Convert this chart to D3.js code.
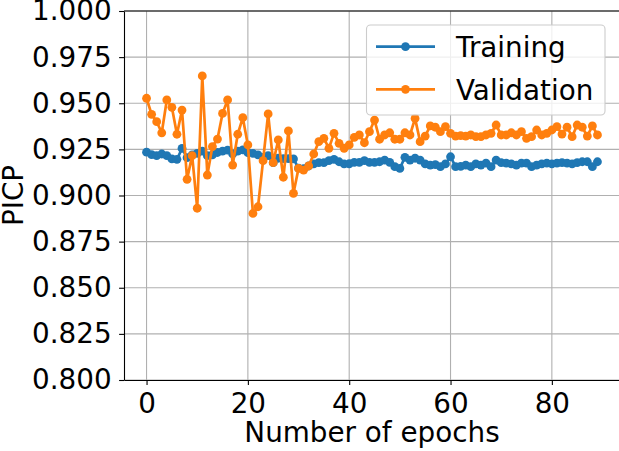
<!DOCTYPE html>
<html>
<head>
<meta charset="utf-8">
<script src="https://cdn.jsdelivr.net/npm/d3@7"></script>
<style>
  body { margin: 0; background: #fff; }
  text { font-family: "DejaVu Sans", sans-serif; fill: #000; }
</style>
</head>
<body>
<div id="chart"></div>
<script>
// PICP per epoch
var trainingPICP = [
  0.9235, 0.9222, 0.9216, 0.9225, 0.9216, 0.9198, 0.9196, 0.9255, 0.9205, 0.9220,
  0.9228, 0.9240, 0.9216, 0.9220, 0.9233, 0.9240, 0.9246, 0.9225, 0.9240, 0.9247,
  0.9232, 0.9228, 0.9220, 0.9207, 0.9216, 0.9178, 0.9202, 0.9200, 0.9200, 0.9198,
  0.9148, 0.9145, 0.9160, 0.9171, 0.9178, 0.9178, 0.9189, 0.9196, 0.9183, 0.9171,
  0.9172, 0.9180, 0.9180, 0.9189, 0.9180, 0.9180, 0.9183, 0.9192, 0.9180, 0.9156,
  0.9147, 0.9207, 0.9192, 0.9202, 0.9192, 0.9171, 0.9165, 0.9167, 0.9156, 0.9171,
  0.9210, 0.9156, 0.9158, 0.9165, 0.9156, 0.9171, 0.9165, 0.9175, 0.9156, 0.9192,
  0.9178, 0.9175, 0.9171, 0.9165, 0.9175, 0.9175, 0.9156, 0.9165, 0.9171, 0.9175,
  0.9171, 0.9175, 0.9178, 0.9175, 0.9171, 0.9178, 0.9183, 0.9183, 0.9156, 0.9183
];
var validationPICP = [
  0.9527, 0.9440, 0.9400, 0.9340, 0.9518, 0.9478, 0.9332, 0.9463, 0.9088, 0.9216,
  0.8931, 0.9648, 0.9111, 0.9265, 0.9306, 0.9445, 0.9518, 0.9165, 0.9332, 0.9422,
  0.9274, 0.8903, 0.8939, 0.9189, 0.9442, 0.9178, 0.9301, 0.9099, 0.9350, 0.9012,
  0.9147, 0.9138, 0.9160, 0.9225, 0.9292, 0.9310, 0.9256, 0.9337, 0.9283, 0.9256,
  0.9274, 0.9315, 0.9328, 0.9286, 0.9346, 0.9409, 0.9305, 0.9328, 0.9340, 0.9305,
  0.9305, 0.9340, 0.9328, 0.9418, 0.9292, 0.9322, 0.9377, 0.9370, 0.9346, 0.9373,
  0.9337, 0.9322, 0.9325, 0.9322, 0.9328, 0.9319, 0.9319, 0.9328, 0.9337, 0.9382,
  0.9328, 0.9328, 0.9340, 0.9328, 0.9346, 0.9310, 0.9319, 0.9355, 0.9328, 0.9337,
  0.9355, 0.9373, 0.9333, 0.9370, 0.9319, 0.9382, 0.9370, 0.9322, 0.9377, 0.9328
];
var xTicks = [0, 20, 40, 60, 80];
var yTicks = [0.800, 0.825, 0.850, 0.875, 0.900, 0.925, 0.950, 0.975, 1.000];
var seriesNames = ["Training", "Validation"];
var seriesColors = ["#1f77b4", "#ff7f0e"];

var svgWidth = 619, svgHeight = 451;
var plotLeft = 124, plotRight = 620, plotTop = 11, plotBottom = 380;
var fontSize = 27.8;

var svg = d3.select("#chart").append("svg")
  .attr("width", svgWidth)
  .attr("height", svgHeight);

var n = trainingPICP.length - 1;
var xScale = d3.scaleLinear()
  .domain([-0.05 * n, n * 1.05])
  .range([plotLeft, plotRight]);
var yScale = d3.scaleLinear()
  .domain([0.8, 1.0])
  .range([plotBottom, plotTop]);

// grid
svg.append("g").selectAll("line")
  .data(xTicks).enter().append("line")
  .attr("x1", d => xScale(d)).attr("x2", d => xScale(d))
  .attr("y1", plotTop).attr("y2", plotBottom)
  .attr("stroke", "#b0b0b0").attr("stroke-width", 1.1);
svg.append("g").selectAll("line")
  .data(yTicks).enter().append("line")
  .attr("x1", plotLeft).attr("x2", plotRight)
  .attr("y1", d => yScale(d)).attr("y2", d => yScale(d))
  .attr("stroke", "#b0b0b0").attr("stroke-width", 1.1);

// series
var allSeries = [trainingPICP, validationPICP];
var line = d3.line()
  .x((d, i) => xScale(i))
  .y(d => yScale(d));

allSeries.forEach(function (vals, k) {
  var g = svg.append("g");
  g.append("path")
    .datum(vals)
    .attr("d", line)
    .attr("fill", "none")
    .attr("stroke", seriesColors[k])
    .attr("stroke-width", 2.7)
    .attr("stroke-linejoin", "round");
  g.selectAll("circle")
    .data(vals)
    .enter()
    .append("circle")
    .attr("cx", (d, i) => xScale(i))
    .attr("cy", d => yScale(d))
    .attr("r", 4.4)
    .attr("fill", seriesColors[k]);
});

// axes
var bottomAxis = d3.axisBottom(xScale)
  .tickValues(xTicks)
  .tickSize(4.9)
  .tickSizeOuter(0)
  .tickPadding(8.4)
  .tickFormat(d3.format("d"));
var leftAxis = d3.axisLeft(yScale)
  .tickValues(yTicks)
  .tickSize(4.9)
  .tickSizeOuter(0)
  .tickPadding(7.5)
  .tickFormat(d3.format(".3f"));

var gx = svg.append("g")
  .attr("transform", `translate(0, ${plotBottom})`)
  .call(bottomAxis);
var gy = svg.append("g")
  .attr("transform", `translate(${plotLeft}, 0)`)
  .call(leftAxis);

[gx, gy].forEach(function (g) {
  g.selectAll("text")
    .attr("font-size", fontSize)
    .attr("font-family", "DejaVu Sans")
    .attr("fill", "#000");
  g.selectAll("line").attr("stroke", "#000").attr("stroke-width", 1.1);
  g.select(".domain").attr("stroke", "#000").attr("stroke-width", 1.1);
});

// top and right spines
svg.append("line")
  .attr("x1", plotLeft).attr("x2", plotRight)
  .attr("y1", plotTop).attr("y2", plotTop)
  .attr("stroke", "#000").attr("stroke-width", 1.1);
svg.append("line")
  .attr("x1", plotRight).attr("x2", plotRight)
  .attr("y1", plotTop).attr("y2", plotBottom)
  .attr("stroke", "#000").attr("stroke-width", 1.1);

// axis labels
svg.append("text")
  .attr("x", (plotLeft + plotRight) / 2)
  .attr("y", 441.5)
  .attr("text-anchor", "middle")
  .attr("font-size", fontSize)
  .text("Number of epochs");

svg.append("text")
  .attr("transform", `translate(23, ${(plotTop + plotBottom) / 2}) rotate(-90)`)
  .attr("text-anchor", "middle")
  .attr("font-size", fontSize)
  .text("PICP");

// legend
var legend = svg.append("g");
legend.append("rect")
  .attr("x", 366.5).attr("y", 25)
  .attr("width", 238.5).attr("height", 90)
  .attr("rx", 4).attr("ry", 4)
  .attr("fill", "#fff").attr("fill-opacity", 0.8)
  .attr("stroke", "#cccccc").attr("stroke-width", 1.1);

var rows = legend.selectAll("g.row")
  .data(seriesNames)
  .enter()
  .append("g")
  .attr("class", "row")
  .attr("transform", (d, i) => `translate(0, ${46.7 + i * 42.6})`);
rows.append("line")
  .attr("x1", 376).attr("x2", 435)
  .attr("y1", 0).attr("y2", 0)
  .attr("stroke", (d, i) => seriesColors[i])
  .attr("stroke-width", 2.7);
rows.append("circle")
  .attr("cx", 405.5).attr("cy", 0).attr("r", 4.4)
  .attr("fill", (d, i) => seriesColors[i]);
rows.append("text")
  .attr("x", 456)
  .attr("y", 10.5)
  .attr("font-size", fontSize)
  .text(d => d);
</script>
</body>
</html>
